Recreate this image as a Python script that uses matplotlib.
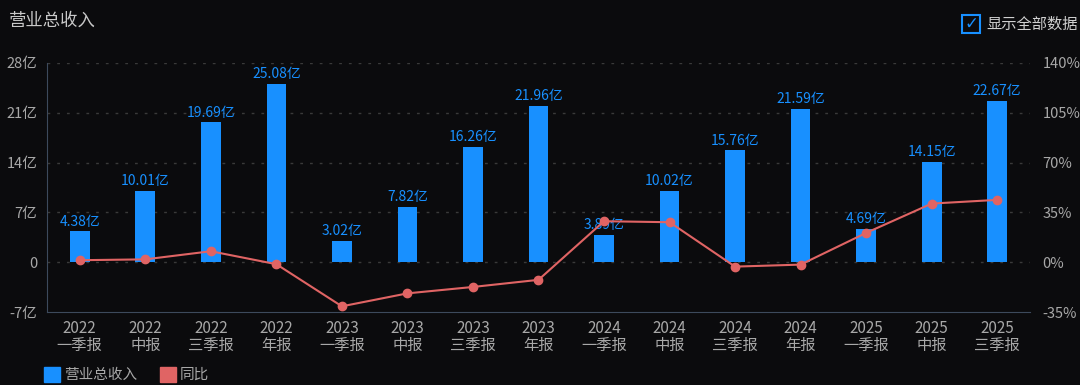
import matplotlib.pyplot as plt
from matplotlib.patches import Rectangle

plt.rcParams['font.family'] = ['Noto Sans CJK SC', 'DejaVu Sans']

# data
years = ['2022', '2022', '2022', '2022', '2023', '2023', '2023', '2023',
         '2024', '2024', '2024', '2024', '2025', '2025', '2025']
periods = ['一季报', '中报', '三季报', '年报', '一季报', '中报', '三季报', '年报',
           '一季报', '中报', '三季报', '年报', '一季报', '中报', '三季报']
revenue = [4.38, 10.01, 19.69, 25.08, 3.02, 7.82, 16.26, 21.96,
           3.89, 10.02, 15.76, 21.59, 4.69, 14.15, 22.67]
yoy = [1.4, 2.0, 7.7, -1.4, -31.0, -21.9, -17.4, -12.4,
       28.8, 28.1, -3.1, -1.7, 20.6, 41.2, 43.8]

bg = '#0b0b0d'
blue = '#1890ff'
red = '#e06464'
txt = '#a8a8a8'

fig = plt.figure(figsize=(10.8, 3.85), dpi=100, facecolor=bg)
ax = fig.add_axes([0.0435, 0.1896, 0.9102, 0.6468])
ax.set_facecolor(bg)

x = list(range(len(revenue)))
ax.bar(x, revenue, width=0.3, color=blue, zorder=2)
for i, v in enumerate(revenue):
    ax.text(i, v + 0.35, f'{v:.2f}亿', color=blue, fontsize=10,
            ha='center', va='bottom', zorder=4)

ax.set_xlim(-0.5, len(revenue) - 0.5)
ax.set_ylim(-7, 28)
ax.set_yticks([-7, 0, 7, 14, 21, 28])
ax.set_yticklabels(['-7亿', '0', '7亿', '14亿', '21亿', '28亿'])
for yv in [0, 7, 14, 21, 28]:
    ax.axhline(yv, color='#3a3a3a', lw=1, ls=(0, (2, 5)), zorder=1)

ax.set_xticks(x)
ax.set_xticklabels([f'{a}\n{b}' for a, b in zip(years, periods)], linespacing=0.95)
ax.tick_params(axis='both', colors=txt, labelsize=10.5, length=0)
ax.tick_params(axis='x', pad=6, labelsize=11)
ax.tick_params(axis='y', pad=7)
for s in ['top', 'right']:
    ax.spines[s].set_visible(False)
ax.spines['left'].set_color('#3d4a5c')
ax.spines['bottom'].set_color('#3d4a5c')

ax2 = ax.twinx()
ax2.set_ylim(-35, 140)
ax2.set_yticks([-35, 0, 35, 70, 105, 140])
ax2.set_yticklabels(['-35%', '0%', '35%', '70%', '105%', '140%'])
ax2.tick_params(axis='y', colors=txt, labelsize=10.5, length=0, pad=9)
for s in ['top', 'right', 'left', 'bottom']:
    ax2.spines[s].set_visible(False)
ax2.plot(x, yoy, color=red, lw=1.5, marker='o', markersize=6, zorder=3)

# title and checkbox
fig.text(0.008, 0.945, '营业总收入', color='#c8c8c8', fontsize=12.5, va='center')
fig.patches.append(Rectangle((0.891, 0.915), 0.0165, 0.046, transform=fig.transFigure,
                             fill=False, edgecolor=blue, lw=1.5))
fig.text(0.8995, 0.937, '✓', color=blue, fontsize=12, ha='center', va='center',
         family=['DejaVu Sans'])
fig.text(0.913, 0.937, '显示全部数据', color='#d0d0d0', fontsize=11, va='center')

# legend
fig.patches.append(Rectangle((0.041, 0.008), 0.0148, 0.04, transform=fig.transFigure,
                             color=blue))
fig.text(0.059, 0.026, '营业总收入', color=txt, fontsize=10.5, va='center')
fig.patches.append(Rectangle((0.148, 0.008), 0.0148, 0.04, transform=fig.transFigure,
                             color=red))
fig.text(0.166, 0.026, '同比', color=txt, fontsize=10.5, va='center')

fig.savefig('out.png', dpi=100, facecolor=bg)
